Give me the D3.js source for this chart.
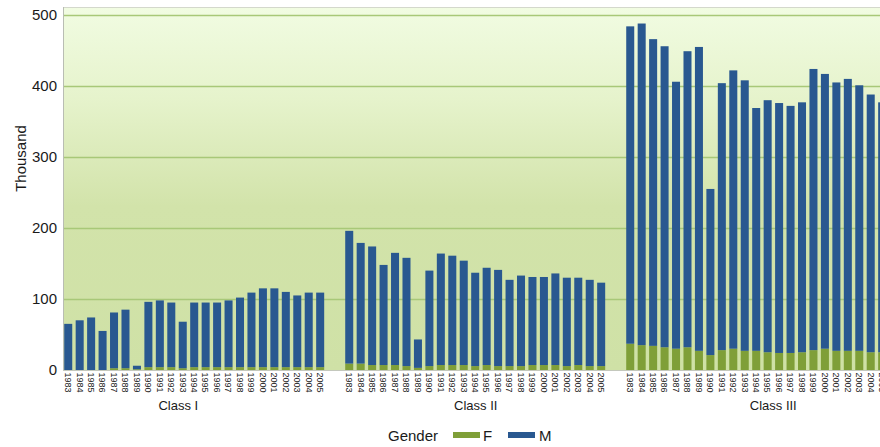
<!DOCTYPE html>
<html>
<head>
<meta charset="utf-8">
<script src="https://cdn.jsdelivr.net/npm/d3@7"></script>
<style>
  html, body { margin: 0; padding: 0; background: #ffffff; overflow: hidden; }
  svg { display: block; font-family: "Liberation Sans", Arial, Helvetica, sans-serif; }
</style>
</head>
<body>
<svg id="chart" width="880" height="447"></svg>
<script>
const classes = ["Class I", "Class II", "Class III"];
const years = ["1983","1984","1985","1986","1987","1988","1989","1990","1991","1992","1993","1994",
               "1995","1996","1997","1998","1999","2000","2001","2002","2003","2004","2005"];
const seriesNames = ["F", "M"];
const yTicks = [0, 100, 200, 300, 400, 500];

const femaleClassI   = [0,0,0,0,2.5,2.5,1,4,4,4,2.5,4,4,4,4,4,4,4,4,4,4,4,4];
const maleClassI     = [65,70,74,55,78.5,82.5,5,92,94,91,65.5,91,91,91,94,98,105,111,111,106,101,105,105];
const femaleClassII  = [9,9,7,7,7,5.5,3,5.5,7,7,7,5.5,7,5.5,5.5,5.5,7,7,7,5.5,7,5.5,5.5];
const maleClassII    = [187,170,167,141,158,152.5,40,134.5,157,154,147,131.5,137,135.5,121.5,127.5,124,124,129,124.5,123,121.5,117.5];
const femaleClassIII = [37,35,34,32,30,32,27,21,28,30,27,27,25,24,24,25,28,30,27,27,27,25,25];
const maleClassIII   = [447,453,432,424,376,417,428,234,376,392,381,342,355,352,348,352,396,387,378,383,374,363,352];

const femaleByClass = [femaleClassI, femaleClassII, femaleClassIII];
const maleByClass = [maleClassI, maleClassII, maleClassIII];

const colors = { F: "#7f9f38", M: "#295890" };

const svg = d3.select("#chart");
const plotLeft = 63, plotTop = 7, plotBottom = 370, plotRight = 900;

// data rows
const rows = [];
classes.forEach((c, ci) => {
  years.forEach((yr, yi) => {
    rows.push({ cls: c, year: yr, F: femaleByClass[ci][yi], M: maleByClass[ci][yi] });
  });
});

const y = d3.scaleLinear().domain([0, 500]).range([plotBottom, 15]);
const xClass = d3.scaleBand().domain(classes).range([62.5, 62.5 + 3 * 281]);
const xYear = d3.scaleBand().domain(years).range([0, 263.4]).paddingInner(0.3).paddingOuter(0.15);
const xClassLabel = d3.scaleBand().domain(classes).range([29.5, 29.5 + 3 * 297.5]);

// background gradient
const defs = svg.append("defs");
const grad = defs.append("linearGradient").attr("id", "bg").attr("x1", 0).attr("y1", 0).attr("x2", 0).attr("y2", 1);
grad.append("stop").attr("offset", "0%").attr("stop-color", "#f1fce2");
grad.append("stop").attr("offset", "25%").attr("stop-color", "#e6f3cc");
grad.append("stop").attr("offset", "55%").attr("stop-color", "#d2e3aa");
grad.append("stop").attr("offset", "100%").attr("stop-color", "#cfe1a6");

svg.append("rect")
  .attr("x", plotLeft).attr("y", plotTop)
  .attr("width", plotRight - plotLeft).attr("height", plotBottom - plotTop)
  .attr("fill", "url(#bg)");

// top border
svg.append("line").attr("x1", plotLeft).attr("x2", plotRight)
  .attr("y1", plotTop + 0.5).attr("y2", plotTop + 0.5)
  .attr("stroke", "#d4d8cc").attr("stroke-width", 1);

// gridlines
svg.append("g").selectAll("line").data(yTicks.filter(d => d > 0)).join("line")
  .attr("x1", plotLeft).attr("x2", plotRight)
  .attr("y1", d => Math.round(y(d)) + 0.5).attr("y2", d => Math.round(y(d)) + 0.5)
  .attr("stroke", "#a8c878").attr("stroke-width", 1.3);

// stacked bars
const stack = d3.stack().keys(seriesNames);
const stacked = stack(rows);
svg.append("g").selectAll("g").data(stacked).join("g")
  .attr("fill", d => colors[d.key])
  .selectAll("rect").data(d => d).join("rect")
  .attr("x", d => xClass(d.data.cls) + xYear(d.data.year))
  .attr("width", xYear.bandwidth())
  .attr("y", d => y(d[1]))
  .attr("height", d => Math.max(0, y(d[0]) - y(d[1])));

// axes lines
svg.append("line").attr("x1", plotLeft + 0.5).attr("x2", plotLeft + 0.5)
  .attr("y1", plotTop).attr("y2", plotBottom + 1)
  .attr("stroke", "#b9bdb3").attr("stroke-width", 1);
svg.append("line").attr("x1", plotLeft).attr("x2", plotRight)
  .attr("y1", plotBottom + 0.5).attr("y2", plotBottom + 0.5)
  .attr("stroke", "#c4c8bd").attr("stroke-width", 1.2);

// y axis
const yAxis = d3.axisLeft(y).tickValues(yTicks).tickSize(0).tickPadding(6).tickFormat(d3.format("d"));
const gy = svg.append("g").attr("transform", `translate(${plotLeft},0)`).call(yAxis);
gy.select(".domain").remove();
gy.selectAll("text").attr("font-size", 15).attr("fill", "#1a1a1a")
  .attr("font-family", "Liberation Sans, Arial, sans-serif");

svg.append("text")
  .attr("transform", `translate(26,158.5) rotate(-90)`)
  .attr("text-anchor", "middle")
  .attr("font-size", 15).attr("fill", "#1a1a1a")
  .text("Thousand");

// year labels
svg.append("g").selectAll("text").data(rows).join("text")
  .attr("transform", d => `translate(${xClass(d.cls) + xYear(d.year) + xYear.bandwidth() / 2},372.5) rotate(90)`)
  .attr("dy", "0.35em")
  .attr("text-anchor", "start")
  .attr("font-size", 9).attr("fill", "#222")
  .text(d => d.year);

// class labels
svg.append("g").selectAll("text").data(classes).join("text")
  .attr("x", d => xClassLabel(d) + xClassLabel.bandwidth() / 2)
  .attr("y", 410)
  .attr("text-anchor", "middle")
  .attr("font-size", 13).attr("fill", "#1a1a1a")
  .text(d => d);

// legend
const legend = svg.append("g");
legend.append("text").attr("x", 388).attr("y", 440.5).attr("font-size", 15).attr("fill", "#1a1a1a").text("Gender");
const legendItems = [
  { key: "F", sx: 453, tx: 483 },
  { key: "M", sx: 508, tx: 539 }
];
legend.selectAll("rect.sw").data(legendItems).join("rect")
  .attr("class", "sw")
  .attr("x", d => d.sx).attr("y", 432).attr("width", 27).attr("height", 6)
  .attr("fill", d => colors[d.key]);
legend.selectAll("text.lt").data(legendItems).join("text")
  .attr("class", "lt")
  .attr("x", d => d.tx).attr("y", 440.5).attr("font-size", 15).attr("fill", "#1a1a1a")
  .text(d => d.key);
</script>
</body>
</html>
